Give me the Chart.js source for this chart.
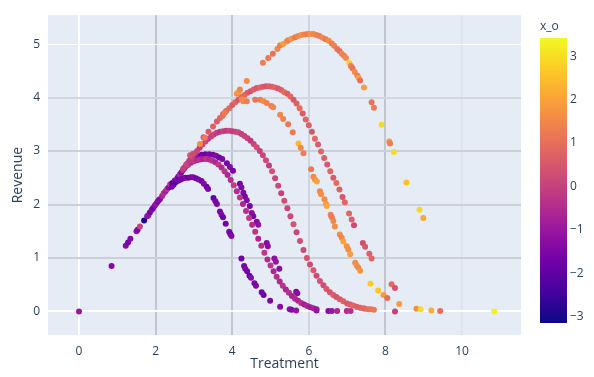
<!DOCTYPE html>
<html>
<head>
<meta charset="utf-8">
<script src="https://cdn.jsdelivr.net/npm/chart.js@4/dist/chart.umd.min.js"></script>
<style>
  html, body { margin: 0; padding: 0; background: #ffffff; }
  #wrap { width: 594px; height: 377px; }
</style>
</head>
<body>
<div id="wrap"><canvas id="chart" width="594" height="377"></canvas></div>
<script>
// Each row: [Treatment, Revenue, x_o]
const ramp = [
  [0.00,0.00,-1.0],[0.85,0.85,-1.4],[1.22,1.23,-1.3],[1.28,1.29,-1.6],[1.34,1.36,-1.4],
  [1.50,1.50,-1.1],[1.53,1.53,-1.5],[1.59,1.59,0.0],[1.70,1.70,-3.0],[1.78,1.78,-1.4],
  [1.81,1.80,-1.1],[1.85,1.85,-1.6],[1.90,1.90,-1.3],[1.93,1.93,-1.7],[1.98,1.98,-1.4],
  [2.01,2.01,-1.0],[2.05,2.05,-1.6],[2.08,2.08,-1.2],[2.11,2.10,-1.5],[2.17,2.16,-0.7],
  [2.21,2.21,-0.4],[2.26,2.25,-0.8],[2.30,2.29,-0.2],[2.34,2.32,-1.3],[2.38,2.38,-0.3],
  [2.42,2.33,-1.7],[2.44,2.40,-2.3],[2.47,2.37,-1.8],[2.50,2.45,-1.4],[2.53,2.42,-2.2],
  [2.56,2.48,-1.1],[2.59,2.52,-1.7],[2.63,2.56,-0.6],[2.67,2.60,-1.4],[2.71,2.64,-0.5],
  [2.75,2.68,-1.1],[2.79,2.72,-0.3],[2.83,2.76,-1.6],[2.87,2.80,0.4]
];
const groupA = [
  [2.60,2.45,-1.9],[2.66,2.47,-1.6],[2.72,2.49,-1.7],[2.78,2.50,-1.5],[2.85,2.50,-1.8],
  [2.92,2.51,-1.6],[2.98,2.51,-1.4],[3.05,2.49,-1.7],[3.12,2.47,-1.5],[3.20,2.44,-1.6],
  [3.26,2.39,-1.4],[3.33,2.33,-1.7],[3.37,2.29,-1.5],[3.51,2.12,-1.9],[3.56,2.06,-1.6],
  [3.60,2.01,-1.5],[3.68,1.87,-1.6],[3.72,1.81,-1.4],[3.76,1.76,-1.7],[3.83,1.64,-1.6],
  [3.92,1.49,-1.5],[3.95,1.45,-1.7],[3.98,1.41,-1.4],[4.24,0.99,-1.7],[4.31,0.85,-1.6],
  [4.34,0.80,-1.5],[4.39,0.75,-1.6],[4.45,0.67,-1.7],[4.49,0.63,-1.4],[4.58,0.53,-1.6],
  [4.62,0.48,-1.5],[4.77,0.36,-1.6],[4.82,0.31,-1.7],[4.99,0.20,-1.5],[5.25,0.09,-1.3],
  [5.50,0.04,-1.2],[5.55,0.03,-1.4],[5.67,0.02,-1.1]
];
const groupC = [
  [2.92,2.84,-1.5],[3.02,2.88,-1.7],[3.10,2.91,-1.4],[3.20,2.93,-1.6],[3.30,2.94,-1.8],
  [3.40,2.94,-1.5],[3.50,2.93,-1.6],[3.58,2.91,-1.4],[3.66,2.88,-1.7],[3.74,2.85,-1.5],
  [3.86,2.77,-1.6],[3.94,2.70,-1.4],[4.02,2.63,-1.6],[4.20,2.39,-1.6],[4.24,2.32,-1.4],
  [4.29,2.22,-1.5],[4.33,2.15,-1.6],[4.38,2.08,-1.4],[4.46,1.97,-1.6],[4.51,1.84,-1.3],
  [4.55,1.78,-1.5],[4.64,1.68,-1.4],[4.68,1.62,-1.2],[4.90,1.28,-1.4],[4.93,1.22,-1.3],
  [5.10,0.99,-1.2],[5.14,0.93,-1.1],[5.23,0.80,-1.3],[5.67,0.37,-1.5],[5.70,0.34,-1.3],
  [6.20,0.02,-1.3],[6.51,0.01,-1.4],[6.60,0.01,-1.0],[6.74,0.01,-0.6],[6.99,0.01,-0.5],
  [7.09,0.01,-0.4]
];
const groupB = [
  [2.76,2.69,-0.5],[2.84,2.74,-0.3],[2.92,2.78,-0.6],[3.00,2.81,-0.2],[3.08,2.83,-0.5],
  [3.16,2.84,-0.4],[3.24,2.85,-0.7],[3.32,2.85,-0.3],[3.40,2.84,-0.5],[3.48,2.82,-0.4],
  [3.56,2.79,-0.6],[3.64,2.75,-0.2],[3.72,2.69,-0.5],[3.80,2.62,-0.3],[3.88,2.55,-0.6],
  [3.96,2.46,-0.4],[4.04,2.36,-0.1],[4.12,2.25,-0.5],[4.20,2.13,-0.3],[4.28,2.01,-0.6],
  [4.36,1.88,-0.4],[4.44,1.75,-0.2],[4.52,1.62,-0.5],[4.60,1.49,-0.3],[4.68,1.36,-0.6],
  [4.76,1.23,-0.4],[4.84,1.10,-0.2],[4.92,0.97,-0.5],[5.00,0.86,-0.3],[5.08,0.75,-0.6],
  [5.16,0.65,-0.4],[5.24,0.56,-0.5],[5.32,0.48,-0.3],[5.40,0.41,-0.6],[5.48,0.35,-0.4],
  [5.56,0.29,-0.7],[5.64,0.24,-0.5],[5.72,0.20,-0.6],[5.80,0.16,-0.4],[5.88,0.13,-0.8],
  [5.96,0.10,-0.6],[6.04,0.08,-0.9],[6.12,0.06,-0.7],[6.20,0.04,-1.0]
];
const groupD = [
  [2.72,2.67,-0.1],[2.80,2.75,0.1],[2.88,2.82,-0.2],[2.95,2.89,0.0],[3.02,2.95,-0.3],
  [3.08,3.00,0.1],[3.15,3.06,-0.1],[3.22,3.12,0.0],[3.30,3.18,0.2],[3.37,3.23,-0.2],
  [3.45,3.27,0.0],[3.52,3.31,0.1],[3.60,3.34,-0.1],[3.68,3.36,-0.3],[3.76,3.37,0.0],
  [3.84,3.38,-0.2],[3.92,3.38,0.1],[4.00,3.37,-0.1],[4.08,3.36,0.0],[4.16,3.35,0.2],
  [4.24,3.32,-0.1],[4.32,3.28,0.1],[4.40,3.24,0.0],[4.48,3.19,-0.2],[4.56,3.13,0.1],
  [4.64,3.07,0.3],[4.72,3.00,0.0],[4.80,2.92,0.1],[4.88,2.83,0.2],[4.96,2.73,-0.1],
  [5.04,2.62,0.4],[5.12,2.49,0.1],[5.20,2.35,0.2],[5.28,2.21,0.0],[5.36,2.07,0.3],
  [5.44,1.93,0.1],[5.52,1.78,0.2],[5.60,1.63,0.4],[5.68,1.48,0.1],[5.77,1.32,0.3],
  [5.86,1.15,0.2],[5.95,1.00,0.4],[6.03,0.88,0.3],[6.12,0.77,0.5],[6.20,0.67,0.2],
  [6.29,0.57,0.4],[6.38,0.49,0.3],[6.46,0.42,0.5],[6.55,0.36,0.4],[6.64,0.31,0.6],
  [6.72,0.27,0.4],[6.81,0.23,0.5],[6.90,0.19,0.7],[7.00,0.15,0.5],[7.08,0.13,0.6],
  [7.16,0.11,0.8],[7.25,0.09,0.6],[7.34,0.07,0.7],[7.42,0.06,0.9],[7.47,0.05,0.8],
  [7.55,0.04,1.0],[7.62,0.04,1.1],[7.70,0.03,1.2]
];
const groupE = [
  [2.90,2.92,0.4],[2.98,2.95,0.2],[3.25,3.26,0.6],[3.38,3.36,0.5],[3.50,3.46,0.7],
  [3.60,3.55,0.6],[3.68,3.62,0.8],[3.76,3.69,0.5],[3.84,3.75,0.7],[3.92,3.80,0.9],
  [4.00,3.86,0.6],[4.08,3.91,0.8],[4.16,3.96,0.5],[4.24,4.01,0.7],[4.32,4.05,0.9],
  [4.40,4.09,0.6],[4.48,4.12,0.4],[4.56,4.15,0.7],[4.64,4.18,0.5],[4.72,4.19,0.8],
  [4.80,4.20,0.6],[4.88,4.21,0.4],[4.96,4.21,0.7],[5.04,4.20,0.6],[5.12,4.19,0.8],
  [5.20,4.17,0.5],[5.28,4.14,0.7],[5.36,4.10,0.9],[5.44,4.07,0.6],[5.52,4.02,0.8],
  [5.60,3.96,0.5],[5.68,3.89,0.7],[5.76,3.80,1.0],[5.84,3.70,0.6],[5.92,3.59,0.8],
  [6.00,3.48,0.7],[6.08,3.36,0.5],[6.16,3.23,0.9],[6.24,3.12,0.6],[6.32,2.99,0.8],
  [6.40,2.87,0.7],[6.48,2.75,0.5],[6.56,2.62,0.8],[6.64,2.50,0.6],[6.72,2.40,0.9],
  [6.80,2.28,0.7],[6.88,2.14,0.5],[6.94,2.04,0.8]
];
const groupH = [
  [7.05,1.83,0.8],[7.12,1.72,0.7],[7.18,1.61,0.2],[7.41,1.28,0.3],[7.47,1.21,0.5],
  [7.58,1.08,0.7],[7.64,0.99,0.8],[8.16,0.51,0.9],[8.25,0.44,0.4],[8.25,0.00,0.0]
];
const groupG = [
  [3.75,3.66,1.0],[3.81,3.72,1.2],[4.25,3.97,1.5],[4.29,3.93,1.6],[4.38,3.93,1.3],
  [4.60,3.96,1.1],[4.73,3.96,1.2],[4.82,3.93,1.6],[4.90,3.90,1.4],[5.02,3.84,1.3],
  [5.07,3.82,1.5],[5.25,3.68,1.5],[5.33,3.60,1.4],[5.46,3.50,1.2],[5.58,3.35,1.3],
  [5.73,3.14,2.4],[5.79,3.06,1.5],[5.86,2.96,1.3],[6.06,2.66,1.2],[6.12,2.52,1.5],
  [6.16,2.47,1.7],[6.21,2.43,2.0],[6.29,2.25,1.5],[6.32,2.19,1.6],[6.41,2.10,1.6],
  [6.45,2.01,1.8],[6.47,1.97,2.1],[6.57,1.81,1.4],[6.60,1.76,1.2],[6.64,1.69,1.5],
  [6.68,1.59,1.6],[6.81,1.44,1.6],[6.86,1.38,1.5],[6.90,1.31,2.0],[6.99,1.22,1.7],
  [7.03,1.16,1.6],[7.08,1.07,1.9],[7.21,0.91,1.6],[7.25,0.86,1.7],[7.29,0.82,1.5],
  [7.34,0.76,1.8],[7.61,0.52,2.7],[7.81,0.39,2.6],[7.95,0.31,1.9],[8.05,0.25,1.0],
  [8.36,0.14,1.9],[8.81,0.05,1.6],[8.92,0.04,3.0],[9.20,0.02,2.2],[9.43,0.01,1.0],
  [10.84,0.00,3.3]
];
const groupF = [
  [3.16,3.13,1.6],[3.29,3.25,1.2],[4.12,4.07,1.7],[4.16,4.10,1.9],[4.20,4.15,1.5],
  [4.38,4.31,1.6],[4.80,4.65,1.3],[4.94,4.74,1.2],[5.06,4.82,1.1],[5.18,4.91,1.5],
  [5.25,4.98,1.3],[5.33,5.00,2.0],[5.42,5.05,1.7],[5.46,5.07,1.4],[5.55,5.10,1.8],
  [5.64,5.13,1.2],[5.72,5.15,1.5],[5.80,5.17,1.7],[5.88,5.18,1.4],[5.96,5.19,1.3],
  [6.04,5.19,1.6],[6.12,5.19,1.5],[6.20,5.17,1.4],[6.28,5.15,1.3],[6.36,5.12,1.5],
  [6.44,5.09,1.2],[6.52,5.06,1.6],[6.60,5.01,1.3],[6.66,4.97,1.4],[6.74,4.91,1.1],
  [6.80,4.87,1.0],[6.86,4.82,1.5],[6.92,4.78,1.3],[6.97,4.74,1.6],[7.06,4.64,2.7],
  [7.10,4.59,1.3],[7.14,4.55,1.1],[7.20,4.48,1.6],[7.27,4.41,1.2],[7.30,4.37,2.0],
  [7.34,4.32,1.0],[7.44,4.19,1.9],[7.64,3.91,1.1],[7.70,3.81,1.2],[7.90,3.49,2.9],
  [8.10,3.18,1.8],[8.12,3.14,1.3],[8.22,2.98,3.0],[8.55,2.41,2.5],[8.89,1.90,2.9],
  [8.99,1.75,2.1]
];

const xTicks = [0, 2, 4, 6, 8, 10];
const yTicks = [0, 1, 2, 3, 4, 5];
const colorTicks = [3, 2, 1, 0, -1, -2, -3];
const colorMin = -3.15, colorMax = 3.42;

// Plotly "Plasma" colour scale
const plasma = ['#0d0887','#46039f','#7201a8','#9c179e','#bd3786','#d8576b','#ed7953','#fb9f3a','#fdca26','#f0f921'];

function hexToRgb(h) {
  return [parseInt(h.slice(1,3),16), parseInt(h.slice(3,5),16), parseInt(h.slice(5,7),16)];
}
function plasmaColor(v) {
  let f = (v - colorMin) / (colorMax - colorMin);
  f = Math.max(0, Math.min(1, f));
  const pos = f * (plasma.length - 1);
  const i = Math.min(plasma.length - 2, Math.floor(pos));
  const t = pos - i;
  const a = hexToRgb(plasma[i]), b = hexToRgb(plasma[i + 1]);
  const c = a.map((ch, k) => Math.round(ch + (b[k] - ch) * t));
  return `rgb(${c[0]},${c[1]},${c[2]})`;
}

const rows = [].concat(ramp, groupA, groupC, groupB, groupD, groupE, groupH, groupG, groupF);
const points = rows.map(r => ({ x: r[0], y: r[1] }));
const pointColors = rows.map(r => plasmaColor(r[2]));

const FONT = "'Open Sans', 'Noto Sans', Arial, sans-serif";
const INK = '#2a3f5f';

function gridStyleX(v) {
  if (v === 0) return ['#ffffff', 2];
  if (v === 6) return ['#d0d4dc', 2];
  if (v === 10) return ['#dde2ea', 1.5];
  return ['#c1c5cd', 2];
}
function gridStyleY(v) {
  if (v === 0) return ['#ffffff', 2];
  if (v === 5) return ['#ffffff', 1];
  if (v === 4) return ['#d3d7df', 2];
  return ['#cbcfd7', 2];
}

const plotBackground = {
  id: 'plotBackground',
  beforeDraw(chart) {
    const { ctx, chartArea: a } = chart;
    ctx.save();
    ctx.fillStyle = '#E5ECF6';
    ctx.fillRect(a.left, a.top, a.right - a.left, a.bottom - a.top);
    ctx.restore();
  }
};

const colorBar = {
  id: 'colorBar',
  afterDraw(chart) {
    const { ctx } = chart;
    const x0 = 540, w = 27, top = 38, bottom = 323;
    const yOf = v => top + (colorMax - v) / (colorMax - colorMin) * (bottom - top);
    ctx.save();
    const g = ctx.createLinearGradient(0, bottom, 0, top);
    plasma.forEach((c, i) => g.addColorStop(i / (plasma.length - 1), c));
    ctx.fillStyle = g;
    ctx.fillRect(x0, top, w, bottom - top);
    ctx.fillStyle = INK;
    ctx.font = `12px ${FONT}`;
    ctx.textAlign = 'left';
    ctx.textBaseline = 'middle';
    colorTicks.forEach(v => {
      const label = v < 0 ? '\u2212' + Math.abs(v) : String(v);
      ctx.fillText(label, x0 + w + 3, yOf(v));
    });
    ctx.fillText('x_o', x0, 27);
    ctx.restore();
  }
};

new Chart(document.getElementById('chart'), {
  type: 'scatter',
  data: {
    datasets: [{
      data: points,
      pointRadius: 3,
      pointHoverRadius: 3,
      pointBorderWidth: 0,
      pointBackgroundColor: pointColors,
      pointBorderColor: pointColors
    }]
  },
  options: {
    responsive: false,
    animation: false,
    events: [],
    layout: { padding: { left: 0, top: 12, right: 73, bottom: 0 } },
    plugins: { legend: { display: false }, tooltip: { enabled: false } },
    scales: {
      x: {
        type: 'linear',
        min: -0.81,
        max: 11.54,
        afterBuildTicks: s => { s.ticks = xTicks.map(v => ({ value: v })); },
        afterFit: s => { s.height = 42; },
        border: { display: false },
        grid: {
          drawTicks: false,
          color: c => gridStyleX(c.tick.value)[0],
          lineWidth: c => gridStyleX(c.tick.value)[1]
        },
        ticks: { color: INK, font: { family: FONT, size: 12 }, padding: 9, maxRotation: 0 },
        title: { display: true, text: 'Treatment', color: INK, font: { family: FONT, size: 14 }, padding: { top: 0, bottom: 5 } }
      },
      y: {
        type: 'linear',
        min: -0.44,
        max: 5.54,
        afterBuildTicks: s => { s.ticks = yTicks.map(v => ({ value: v })); },
        afterFit: s => { s.width = 48; },
        border: { display: false },
        grid: {
          drawTicks: false,
          color: c => gridStyleY(c.tick.value)[0],
          lineWidth: c => gridStyleY(c.tick.value)[1]
        },
        ticks: { color: INK, font: { family: FONT, size: 12 }, padding: 8 },
        title: { display: true, text: 'Revenue', color: INK, font: { family: FONT, size: 14 }, padding: { top: 10, bottom: 0 } }
      }
    }
  },
  plugins: [plotBackground, colorBar]
});
</script>
</body>
</html>
